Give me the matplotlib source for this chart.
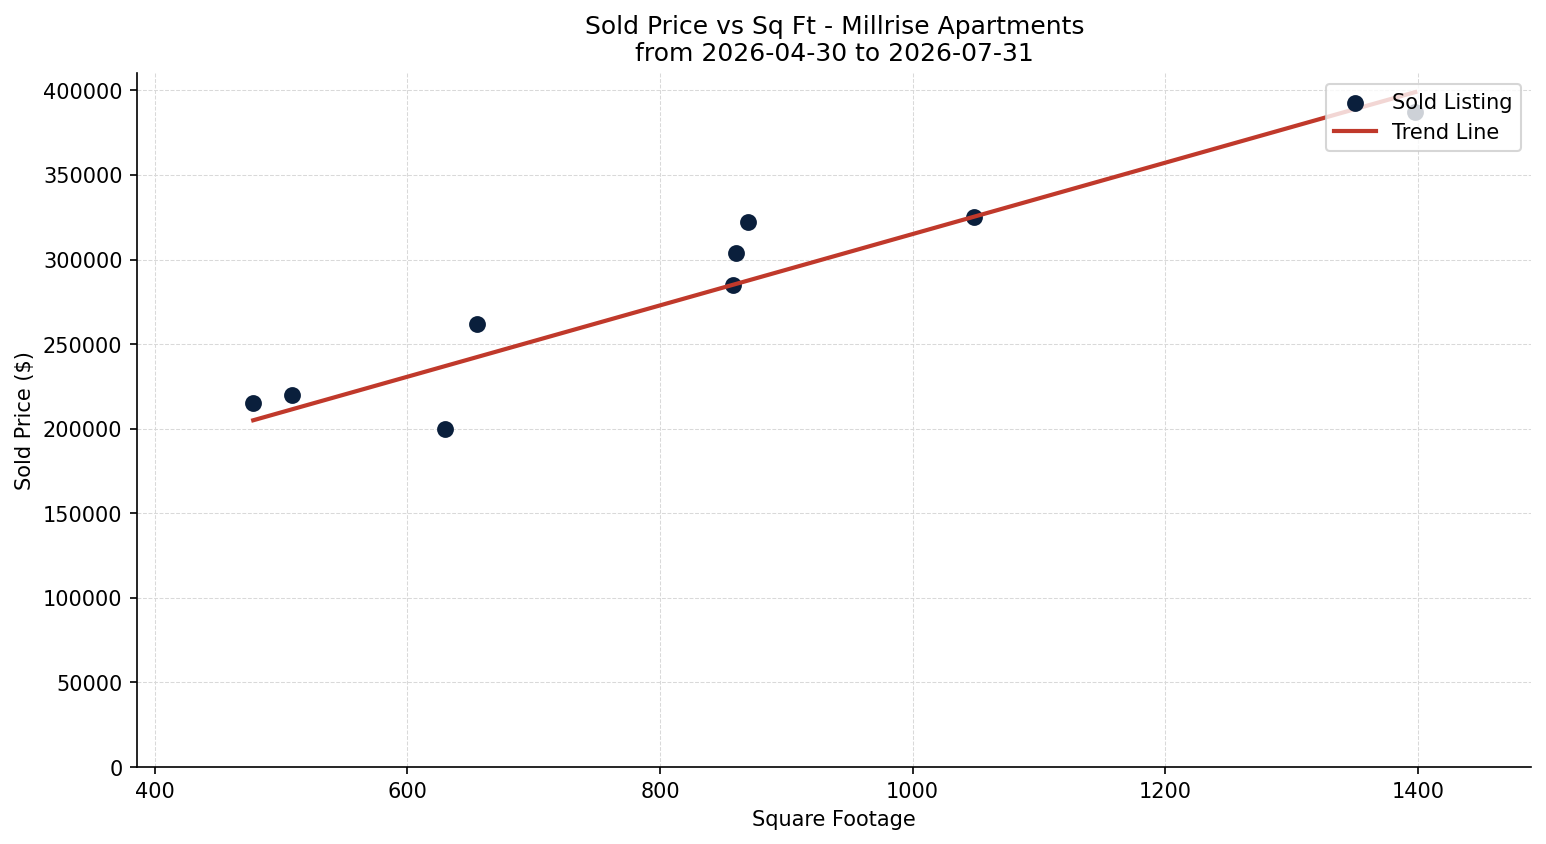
import numpy as np
import matplotlib
matplotlib.use("Agg")
import matplotlib.pyplot as plt

# sold listings
sqft = [478, 509, 630, 655, 858, 860, 870, 1049, 1398]
sold_price = [215000, 220000, 200000, 262000, 285000, 304000, 322000, 325000, 387000]

# trend line end points
trend_x = [478, 1398]
trend_y = [205000, 399000]

fig, ax = plt.subplots(figsize=(10.31, 5.63), dpi=150)
fig.subplots_adjust(left=0.0886, right=0.9903, top=0.9124, bottom=0.0911)

ax.scatter(sqft, sold_price, s=50, color="#0a1f3c", label="Sold Listing", zorder=3)
ax.plot(trend_x, trend_y, color="#c0392b", linewidth=2, label="Trend Line", zorder=4)

ax.set_xlim(386, 1490)
ax.set_ylim(0, 410000)
ax.set_xticks([400, 600, 800, 1000, 1200, 1400])
ax.set_yticks(np.arange(0, 400001, 50000))

ax.grid(True, linestyle="--", linewidth=0.5, color="#d9d9d9")
ax.set_axisbelow(True)
ax.spines["top"].set_visible(False)
ax.spines["right"].set_visible(False)

ax.set_xlabel("Square Footage")
ax.set_ylabel("Sold Price ($)")
ax.set_title("Sold Price vs Sq Ft - Millrise Apartments\nfrom 2026-04-30 to 2026-07-31")
ax.legend(loc="upper right")

fig.savefig("out.png", dpi=150)
